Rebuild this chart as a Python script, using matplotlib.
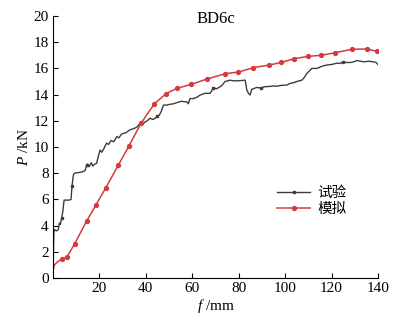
import matplotlib
matplotlib.use('Agg')
import matplotlib.pyplot as plt

plt.rcParams['font.family'] = ['Liberation Serif', 'Noto Sans CJK SC']
plt.rcParams['mathtext.fontset'] = 'custom'
plt.rcParams['mathtext.it'] = 'Liberation Serif:italic'
plt.rcParams['mathtext.rm'] = 'Liberation Serif'

# test curve (试验)
test_f = [0, 0.4, 0.8, 1.5, 2.3, 2.8, 3.2, 3.7, 4.2, 4.8, 5.9, 7.0, 7.8, 8.2, 8.8,
          9.2, 11.0, 12.5, 13.8, 14.5, 14.8, 15.6, 16.5, 17.2, 18.0, 18.8,
          19.5, 20.3, 21.0, 21.7, 23.1, 24.0, 25.0, 26.2, 27.5, 28.4, 29.6, 31.5,
          33.0, 34.6, 36.0, 37.5, 38.5, 39.5, 40.6, 41.8, 43.0, 44.0, 45.0, 45.8,
          46.6, 47.6, 49.0, 50.0, 51.9, 53.5, 55.5, 56.5, 57.6, 58.3, 59.0,
          60.5, 62.0, 63.4, 65.5, 67.7, 68.4, 69.1, 70.5, 72.0, 73.0, 74.1, 76.3,
          78.0, 79.9, 82.8, 83.5, 84.2, 84.9, 85.6, 87.8, 89.5, 91.0, 93.0, 95.0,
          96.5, 98.0, 100.7, 102.2, 103.5, 105.0, 107.2, 108.2, 109.3, 110.4,
          111.5, 113.7, 115.0, 116.5, 118.0, 120.0, 122.3, 123.5, 125.1, 126.5,
          128.0, 129.5, 130.9, 132.5, 133.8, 136.0, 138.1, 139.2, 140.2]
test_p = [0, 3.5, 3.7, 3.6, 3.7, 4.2, 4.1, 4.55, 5.0, 5.95, 5.95, 5.95, 6.0, 7.0, 7.86,
          8.0, 8.05, 8.1, 8.2, 8.6, 8.7, 8.5, 8.8, 8.55, 8.7, 8.75,
          9.26, 9.77, 9.6, 9.8, 10.3, 10.2, 10.5, 10.4, 10.8, 10.7, 11.0, 11.1,
          11.3, 11.4, 11.5, 11.8, 11.7, 11.9, 12.0, 12.2, 12.1, 12.2, 12.35, 12.44,
          12.7, 13.2, 13.2, 13.25, 13.3, 13.4, 13.5, 13.45, 13.46, 13.3, 13.7,
          13.7, 13.8, 13.97, 14.1, 14.1, 14.3, 14.5, 14.45, 14.6, 14.75, 15.0, 15.1,
          15.05, 15.06, 15.1, 14.35, 14.1, 13.97, 14.4, 14.55, 14.5, 14.6, 14.62, 14.66,
          14.64, 14.7, 14.73, 14.86, 14.9, 15.0, 15.1, 15.3, 15.6, 15.8,
          16.0, 16.0, 16.1, 16.2, 16.26, 16.3, 16.4, 16.38, 16.5, 16.45,
          16.45, 16.5, 16.6, 16.55, 16.5, 16.55, 16.5, 16.45, 16.26]

# simulation curve (模拟)
sim_f = [0, 0.6, 2.0, 4.0, 6.0, 9.3, 14.5, 18.5, 22.8, 28.1, 32.8, 37.9, 43.7,
         48.7, 53.4, 59.5, 66.5, 74.3, 79.9, 86.3, 93.2, 98.4, 103.9, 109.9,
         115.5, 121.6, 128.7, 135.2, 139.7]
sim_p = [0.5, 1.0, 1.25, 1.45, 1.6, 2.6, 4.35, 5.57, 6.9, 8.6, 10.1, 11.8, 13.3,
         14.07, 14.48, 14.78, 15.2, 15.6, 15.72, 16.06, 16.26, 16.46, 16.74, 16.92,
         17.0, 17.2, 17.46, 17.48, 17.3]

fig = plt.figure(figsize=(3.95, 3.2), dpi=100)
ax = fig.add_axes([0.134, 0.131, 0.823, 0.819])

ax.plot(test_f, test_p, color='#3d3d3d', lw=1.0, marker='s', ms=1.6,
        markevery=[7, 13, 19, 48, 67, 81, 103], label='试验')
ax.plot(sim_f, sim_p, color='#d63a3c', lw=1.1, marker='o', ms=2.8,
        markevery=list(range(3, len(sim_f))), label='模拟')

ax.set_xlim(0, 140)
ax.set_ylim(0, 20)
ax.set_xticks([20, 40, 60, 80, 100, 120, 140])
ax.set_yticks(range(0, 21, 2))
ax.spines['top'].set_visible(False)
ax.spines['right'].set_visible(False)
ax.tick_params(direction='in', labelsize=11, length=3.5, width=0.8, pad=3)
ax.set_xlabel(r'$f$ /mm', fontsize=11, labelpad=1)
ax.set_ylabel(r'$P$ /kN', fontsize=11, labelpad=2)
ax.text(70, 19.8, 'BD6c', fontsize=12, ha='center', va='center')

ax.legend(loc='upper left', bbox_to_anchor=(0.69, 0.35), frameon=False,
          fontsize=10.5, handlelength=2.25, handletextpad=0.5, labelspacing=0.2,
          borderpad=0, borderaxespad=0)

fig.savefig('out.png', dpi=100)
